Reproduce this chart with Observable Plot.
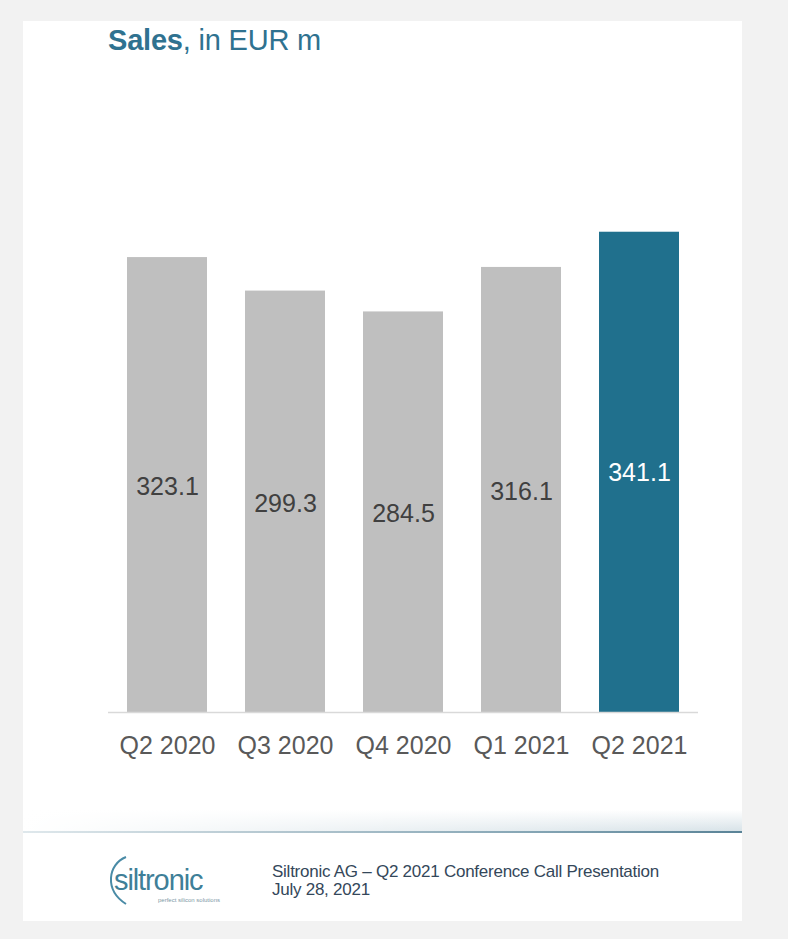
<!DOCTYPE html>
<html>
<head>
<meta charset="utf-8">
<script src="https://cdn.jsdelivr.net/npm/d3@7"></script>
<script src="https://cdn.jsdelivr.net/npm/@observablehq/plot@0.6"></script>
<style>
  html, body { margin: 0; padding: 0; background: #f2f2f2; }
  #wrap { position: relative; width: 788px; height: 939px; overflow: hidden; font-family: "Liberation Sans", Arial, sans-serif; }
  #panel { position: absolute; left: 23px; top: 21px; width: 719px; height: 900px; background: #fff; }
  #title { position: absolute; left: 108px; top: 26px; font-size: 29px; line-height: 29px; color: #2f7290; letter-spacing: -0.2px; }
  #title b { font-weight: bold; }
  #chart { position: absolute; left: 0; top: 100px; }
  #glow { position: absolute; left: 23px; top: 810px; width: 719px; height: 21px;
          background: linear-gradient(to right, rgba(255,255,255,1) 0%, rgba(255,255,255,0.6) 40%, rgba(255,255,255,0) 100%),
                      linear-gradient(to bottom, rgba(255,255,255,0), rgba(190,208,217,0.6)); }
  #rule { position: absolute; left: 23px; top: 831px; width: 719px; height: 2px;
          background: linear-gradient(to right, #dfe8ec 0%, #b4c7d0 35%, #86a6b5 70%, #5a8397 100%); }
  #foot { position: absolute; left: 272px; top: 863px; font-size: 17px; color: #34475a; line-height: 18px; letter-spacing: -0.25px; }
  #logo { position: absolute; left: 100px; top: 850px; }
</style>
</head>
<body>
<div id="wrap">
  <div id="panel"></div>
  <div id="title"><b>Sales</b>, in EUR m</div>
  <div id="chart"></div>
  <div id="glow"></div>
  <div id="rule"></div>
  <svg id="logo" width="170" height="62" viewBox="0 0 170 62">
    <path d="M 26 7 C 8 14, 4 40, 26 54" fill="none" stroke="#4a8ba6" stroke-width="2"/>
    <text x="14" y="40" font-family="Liberation Sans, Arial, sans-serif" font-size="29" fill="#3f7f98" letter-spacing="-1.1">siltronic</text>
    <text x="58" y="52" font-family="Liberation Sans, Arial, sans-serif" font-size="6" fill="#7d99a6">perfect silicon solutions</text>
  </svg>
  <div id="foot">Siltronic AG – Q2 2021 Conference Call Presentation<br>July 28, 2021</div>
</div>
<script>
const quarters = ["Q2 2020", "Q3 2020", "Q4 2020", "Q1 2021", "Q2 2021"];
const sales = [323.1, 299.3, 284.5, 316.1, 341.1];
const highlight = "Q2 2021";

const data = quarters.map((q, i) => ({quarter: q, value: sales[i]}));
const isHi = d => d.quarter === highlight;

const chart = Plot.plot({
  width: 788,
  height: 680,
  marginLeft: 108,
  marginRight: 90,
  marginTop: 119.2,
  marginBottom: 68,
  style: {fontFamily: "Liberation Sans, Arial, sans-serif", background: "transparent"},
  x: {domain: quarters, paddingInner: 0.322, paddingOuter: 0.161, label: null},
  y: {domain: [0, 350], axis: null},
  marks: [
    Plot.barY(data, {x: "quarter", y: "value", fill: d => isHi(d) ? "#20708d" : "#bfbfbf"}),
    Plot.ruleY([0], {stroke: "#d9d9d9", strokeWidth: 1.5}),
    Plot.text(data.filter(d => !isHi(d)), {x: "quarter", y: d => d.value / 2, text: d => d.value.toFixed(1),
      fill: "#404040", fontSize: 25, dy: 2}),
    Plot.text(data.filter(isHi), {x: "quarter", y: d => d.value / 2, text: d => d.value.toFixed(1),
      fill: "#ffffff", fontSize: 25, dy: 1}),
    Plot.axisX({tickSize: 0, tickPadding: 24, fontSize: 25, fill: "#595959", label: null})
  ]
});
document.getElementById("chart").appendChild(chart);
</script>
</body>
</html>
